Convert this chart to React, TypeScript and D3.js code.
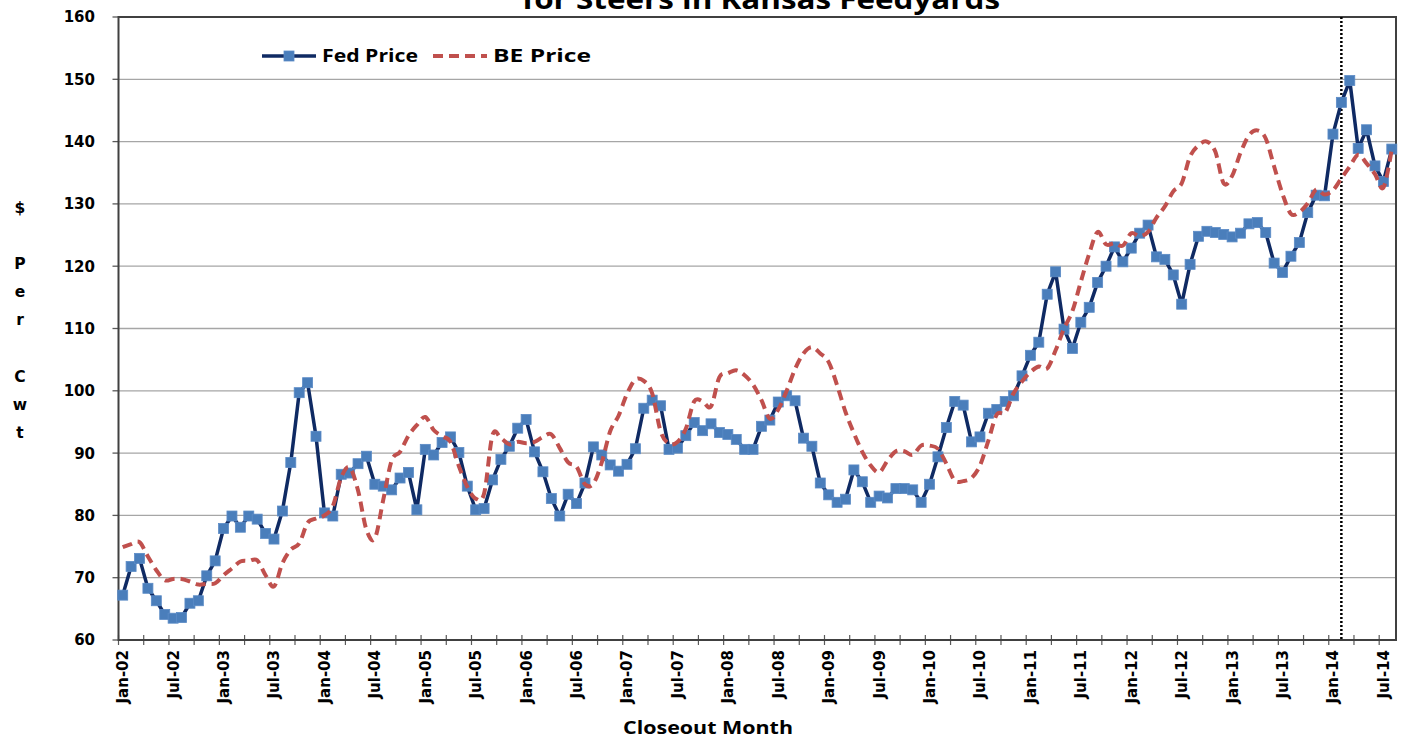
import React from 'react';
import * as d3 from 'd3';

const MONTH_NAMES = ['Jan', 'Feb', 'Mar', 'Apr', 'May', 'Jun', 'Jul', 'Aug', 'Sep', 'Oct', 'Nov', 'Dec'];
const START_YEAR = 2002;
const N_MONTHS = 152;
const months: string[] = d3.range(N_MONTHS).map(
  (i) => `${MONTH_NAMES[i % 12]}-${String((START_YEAR + Math.floor(i / 12)) % 100).padStart(2, '0')}`
);

const fedPrice = [
  67.2, 71.8, 73.1, 68.3, 66.3, 64.1, 63.5, 63.6, 65.9, 66.3, 70.3, 72.7,
  77.9, 79.9, 78.1, 79.9, 79.4, 77.1, 76.2, 80.7, 88.5, 99.7, 101.3, 92.7,
  80.4, 79.9, 86.6, 86.8, 88.3, 89.5, 85.0, 84.7, 84.1, 86.0, 86.9, 80.9,
  90.6, 89.7, 91.7, 92.6, 90.1, 84.7, 80.9, 81.1, 85.7, 89.0, 91.1, 94.0,
  95.4, 90.2, 87.0, 82.7, 79.9, 83.4, 81.9, 85.2, 91.0, 89.7, 88.1, 87.1,
  88.2, 90.7, 97.2, 98.5, 97.6, 90.6, 90.8, 92.8, 94.9, 93.6, 94.7, 93.3,
  93.0, 92.2, 90.6, 90.6, 94.3, 95.3, 98.2, 99.2, 98.4, 92.4, 91.1, 85.2,
  83.3, 82.1, 82.6, 87.3, 85.4, 82.1, 83.1, 82.8, 84.3, 84.3, 84.1, 82.1,
  85.0, 89.4, 94.1, 98.3, 97.7, 91.8, 92.6, 96.4, 97.0, 98.3, 99.2, 102.4,
  105.7, 107.8, 115.5, 119.1, 109.9, 106.8, 111.0, 113.4, 117.4, 120.0, 123.1, 120.7,
  122.9, 125.3, 126.6, 121.5, 121.1, 118.6, 113.9, 120.3, 124.8, 125.6, 125.4, 125.1,
  124.7, 125.3, 126.8, 127.0, 125.4, 120.5, 119.0, 121.6, 123.8, 128.6, 131.4, 131.3,
  141.2, 146.3, 149.8, 138.9, 141.9, 136.1, 133.6, 138.8,
];

const bePrice = [
  74.9, 75.4, 75.7, 73.4, 71.2, 69.6, 69.8, 69.8, 69.4, 68.9, 69.0, 69.1,
  70.4, 71.5, 72.6, 72.7, 72.8, 70.4, 68.6, 72.3, 74.5, 75.5, 78.8, 79.5,
  80.0, 81.5, 86.1, 87.7, 84.0, 77.7, 76.3, 82.5, 88.8, 90.2, 92.8, 94.5,
  95.8, 93.7, 92.7, 91.8, 87.9, 84.6, 82.7, 83.5, 92.9, 92.4, 91.4, 91.8,
  91.6, 91.8, 92.6, 93.0, 90.8, 88.5, 87.8, 85.0, 85.1, 88.5, 93.5, 96.0,
  99.5, 101.8, 101.6, 99.6, 93.5, 91.5, 91.8, 93.9, 98.3, 98.3, 97.5, 102.2,
  102.8, 103.3, 102.5, 101.0, 98.5, 95.5, 97.0, 100.0, 103.5, 106.0, 107.0, 106.0,
  104.6, 100.9, 96.6, 93.2, 90.2, 88.0, 86.9, 88.8, 90.3, 90.3, 89.7, 91.2,
  91.2, 90.7, 88.3, 85.6, 85.5, 86.0, 88.0, 92.0, 96.2, 96.5, 99.6, 101.5,
  103.0, 103.9, 103.6, 106.5, 110.0, 112.8, 117.5, 122.0, 125.5, 123.5, 123.7, 123.3,
  125.3, 124.8, 125.5, 127.8, 129.6, 132.0, 133.3, 137.6, 139.4, 140.0, 138.4, 133.3,
  134.5, 138.2, 141.0, 141.8, 140.5, 136.0, 131.6, 128.4, 128.7, 130.1, 132.3, 131.5,
  132.2, 134.1, 136.0, 137.9, 136.5, 134.8, 132.6, 138.8,
];

const yTicks = [60, 70, 80, 90, 100, 110, 120, 130, 140, 150, 160];
const yAxisTitleChars = ['$', '', 'P', 'e', 'r', '', 'C', 'w', 't'];
const seriesNames = ['Fed Price', 'BE Price'];
const titleText = 'for Steers in Kansas Feedyards';
const xAxisTitle = 'Closeout Month';
const markerMonth = 'Feb-14';

const W = 1403;
const H = 742;
const PLOT = { left: 118.5, right: 1396, top: 17, bottom: 640 };
const FED_COLOR = '#0F2A63';
const MARKER_COLOR = '#4A7EBB';
const BE_COLOR = '#C0504D';
const FONT = '"DejaVu Sans", Verdana, sans-serif';
const FONT2 = '"Open Sans", "DejaVu Sans", sans-serif';

export default function App() {
  const x = d3.scaleBand<string>().domain(months).range([PLOT.left, PLOT.right]).padding(0);
  const y = d3.scaleLinear().domain([60, 160]).range([PLOT.bottom, PLOT.top]);
  const cx = (i: number) => (x(months[i]) as number) + x.bandwidth() / 2;

  const fedLine = d3.line<number>().x((_, i) => cx(i)).y((d) => y(d));
  const beLine = d3
    .line<number>()
    .x((_, i) => cx(i))
    .y((d) => y(d))
    .curve(d3.curveCardinal.tension(0));

  const ms = 10;
  const markerX = cx(months.indexOf(markerMonth));

  return (
    <div style={{ position: 'absolute', left: 0, top: 0 }}>
      <svg width={W} height={H} style={{ display: 'block', background: '#fff' }}>
        <rect x={0} y={0} width={W} height={H} fill="#fff" />
        {/* title (cut at top, as in the reference) */}
        <text
          x={761}
          y={9}
          textAnchor="middle"
          fontFamily={FONT2}
          fontWeight="bold"
          fontSize={26}
          textLength={478}
          lengthAdjust="spacingAndGlyphs"
          fill="#000"
        >
          {titleText}
        </text>

        {/* gridlines */}
        {yTicks
          .filter((t) => t !== 60 && t !== 160)
          .map((t) => (
            <line key={t} x1={PLOT.left} x2={PLOT.right} y1={y(t)} y2={y(t)} stroke="#A6A6A6" strokeWidth={1.3} />
          ))}

        {/* y ticks & labels */}
        {yTicks.map((t) => (
          <g key={'yt' + t}>
            <line x1={PLOT.left - 6} x2={PLOT.left} y1={y(t)} y2={y(t)} stroke="#595959" strokeWidth={1.3} />
            <text
              x={95}
              y={y(t)}
              dy="0.36em"
              textAnchor="end"
              fontFamily={FONT}
              fontWeight="bold"
              fontSize={15}
              fill="#000"
            >
              {t}
            </text>
          </g>
        ))}

        {/* x ticks */}
        {months.map((m, i) =>
          i % 3 === 0 ? (
            <line
              key={'xt' + m}
              x1={x(m) as number}
              x2={x(m) as number}
              y1={PLOT.bottom - 5}
              y2={PLOT.bottom + 5}
              stroke="#595959"
              strokeWidth={1.2}
            />
          ) : null
        )}
        {months.map((m, i) =>
          i % 6 === 0 ? (
            <text
              key={'xl' + m}
              transform={`translate(${cx(i) + 5.5},650) rotate(-90)`}
              textAnchor="end"
              fontFamily={FONT}
              fontWeight="bold"
              fontSize={15}
              fill="#000"
            >
              {m}
            </text>
          ) : null
        )}

        {/* plot border */}
        <rect
          x={PLOT.left}
          y={PLOT.top}
          width={PLOT.right - PLOT.left}
          height={PLOT.bottom - PLOT.top}
          fill="none"
          stroke="#404040"
          strokeWidth={2}
        />

        {/* vertical dotted marker line */}
        <line
          x1={markerX}
          x2={markerX}
          y1={PLOT.top}
          y2={PLOT.bottom}
          stroke="#000"
          strokeWidth={2.5}
          strokeDasharray="2,2"
        />

        {/* Fed price */}
        <path d={fedLine(fedPrice) || ''} fill="none" stroke={FED_COLOR} strokeWidth={3.5} strokeLinejoin="round" />
        {fedPrice.map((v, i) => (
          <rect
            key={'m' + i}
            x={cx(i) - ms / 2}
            y={y(v) - ms / 2}
            width={ms}
            height={ms}
            fill={MARKER_COLOR}
            stroke="#5B8BC6"
            strokeWidth={0.8}
          />
        ))}

        {/* BE price */}
        <path
          d={beLine(bePrice) || ''}
          fill="none"
          stroke={BE_COLOR}
          strokeWidth={4}
          strokeDasharray="10,6"
        />

        {/* legend */}
        <line x1={262} x2={316} y1={56} y2={56} stroke={FED_COLOR} strokeWidth={3.5} />
        <rect x={289 - ms / 2} y={56 - ms / 2} width={ms} height={ms} fill={MARKER_COLOR} stroke="#5B8BC6" strokeWidth={0.8} />
        <text x={322} y={56} dy="0.36em" fontFamily={FONT2} fontWeight="bold" fontSize={17} textLength={96} lengthAdjust="spacingAndGlyphs">
          {seriesNames[0]}
        </text>
        <line x1={433} x2={487} y1={56} y2={56} stroke={BE_COLOR} strokeWidth={4} strokeDasharray="10,6" />
        <text x={493} y={56} dy="0.36em" fontFamily={FONT2} fontWeight="bold" fontSize={17} textLength={98} lengthAdjust="spacingAndGlyphs">
          {seriesNames[1]}
        </text>

        {/* y axis title */}
        {yAxisTitleChars.map((c, i) => (
          <text
            key={'ya' + i}
            x={20}
            y={207 + i * 28.2}
            dy="0.36em"
            textAnchor="middle"
            fontFamily={FONT}
            fontWeight="bold"
            fontSize={15.5}
          >
            {c}
          </text>
        ))}

        {/* x axis title */}
        <text
          x={708}
          y={728}
          dy="0.36em"
          textAnchor="middle"
          fontFamily={FONT2}
          fontWeight="bold"
          fontSize={17}
          textLength={170}
          lengthAdjust="spacingAndGlyphs"
        >
          {xAxisTitle}
        </text>
      </svg>
    </div>
  );
}
